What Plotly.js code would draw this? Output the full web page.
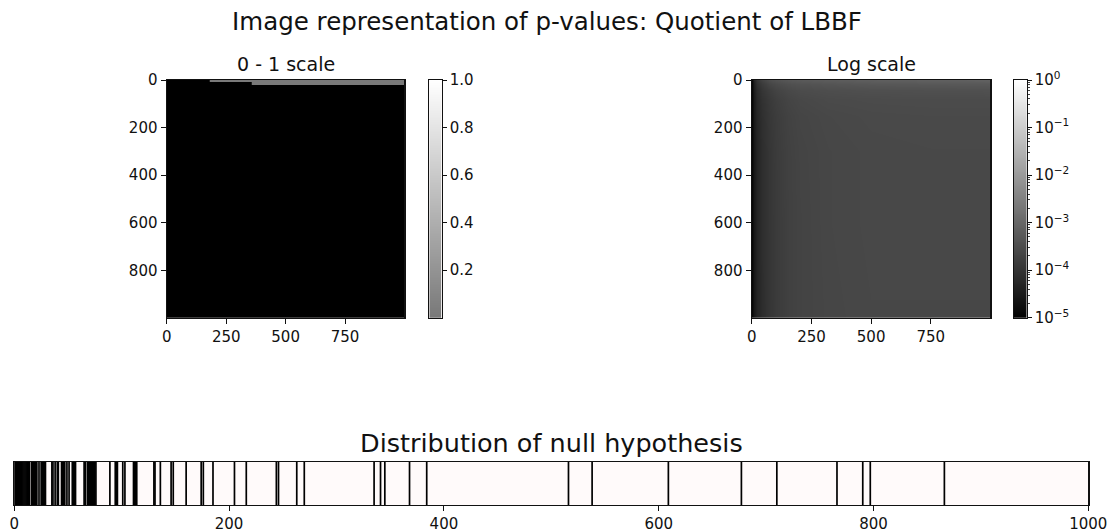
<!DOCTYPE html>
<html>
<head>
<meta charset="utf-8">
<script src="https://cdn.plot.ly/plotly-3.0.1.min.js"></script>
<style>html,body{margin:0;padding:0;background:#fff;}#chart{width:1120px;height:532px;}</style>
</head>
<body>
<div id="chart"></div>
<script>
// ---------- DATA ----------
// Left image (0 - 1 scale): bin edges and p-values
const leftColEdges = [-0.5, 182, 358, 999.5];
const leftRowEdges = [-0.5, 8, 20, 999.5];
const leftP = [
  [0, 0.012, 0.012],
  [0, 0,     0.012],
  [0, 0,     0]
];
// Right image (log scale): sample positions and log10 p-values
const rightCols = [0, 8, 20, 40, 70, 100, 150, 200, 320, 500, 750, 999];
const rightRows = [0, 15, 40, 80, 150, 300, 600, 999];
const rightLogP = [
  [-4.9, -4.30, -3.95, -3.70, -3.50, -3.40, -3.30, -3.25, -3.20, -3.15, -3.12, -3.10],
  [-4.9, -4.40, -4.05, -3.85, -3.65, -3.55, -3.45, -3.40, -3.35, -3.30, -3.28, -3.27],
  [-4.9, -4.45, -4.15, -3.95, -3.80, -3.68, -3.58, -3.52, -3.48, -3.45, -3.44, -3.43],
  [-4.9, -4.50, -4.20, -4.02, -3.88, -3.77, -3.66, -3.60, -3.55, -3.53, -3.52, -3.52],
  [-4.9, -4.50, -4.25, -4.07, -3.92, -3.82, -3.71, -3.65, -3.60, -3.57, -3.56, -3.56],
  [-4.9, -4.55, -4.30, -4.10, -3.95, -3.84, -3.73, -3.67, -3.62, -3.59, -3.58, -3.58],
  [-4.9, -4.55, -4.30, -4.10, -3.95, -3.85, -3.74, -3.68, -3.62, -3.59, -3.59, -3.59],
  [-4.9, -4.55, -4.30, -4.12, -3.96, -3.85, -3.74, -3.68, -3.63, -3.60, -3.60, -3.60]
];
// Null hypothesis distribution (positions of samples)
const nullSamples = [
  0,1,2,3,4,5,6,7,8,9,10,11,12,13,14,16,17,18,19,20,21,23,25,26,27,28,29,
  35,36,38,40,41,44,45,46,47,49,51,54,55,56,57,65,66,
  68,69,70,71,72,73,74,75,76,89,94,95,96,101,103,111,112,113,114,
  130,131,136,146,148,160,174,176,185,205,216,244,246,263,270,
  335,341,345,368,384,516,538,609,677,710,766,790,797,866
];
const imgXTicks = [0, 250, 500, 750];
const imgYTicks = [0, 200, 400, 600, 800];
const linTicks = [0.2, 0.4, 0.6, 0.8, 1.0];
const linTickText = ['0.2', '0.4', '0.6', '0.8', '1.0'];
const logTicks = [-5, -4, -3, -2, -1, 0];
const logTickText = ['10<sup>\u22125</sup>', '10<sup>\u22124</sup>', '10<sup>\u22123</sup>', '10<sup>\u22122</sup>', '10<sup>\u22121</sup>', '10<sup>0</sup>'];
const stripTicks = [0, 200, 400, 600, 800, 1000];
const titles = {
  sup: 'Image representation of p-values: Quotient of LBBF',
  left: '0 - 1 scale',
  right: 'Log scale',
  strip: 'Distribution of null hypothesis'
};

// ---------- BUILD ----------
const W = 1120, H = 532;
const px = (a, b) => [a / W, b / W];
const py = (top, bottom) => [1 - bottom / H, 1 - top / H];

const FONT = 'DejaVu Sans';
const tickFont = {family: FONT, size: 15, color: '#111'};

const leftScale = [[0, '#000000'], [0.002, '#787878'], [1, '#ffffff']];
const grayScale = [[0, '#000000'], [1, '#ffffff']];

// minor tick positions for log colorbar
const minorVals = [];
for (let n = -5; n < 0; n++) for (let k = 2; k <= 9; k++) minorVals.push(n + Math.log10(k));

// strip vertical lines
const sx = [], sy = [];
nullSamples.forEach(v => { sx.push(v, v, null); sy.push(0, 1, null); });

const traces = [
  {type: 'heatmap', x: leftColEdges, y: leftRowEdges, z: leftP, xaxis: 'x', yaxis: 'y',
   colorscale: leftScale, zmin: 0, zmax: 1, showscale: false, hoverinfo: 'skip'},
  {type: 'heatmap', x: rightCols, y: rightRows, z: rightLogP, xaxis: 'x2', yaxis: 'y2',
   colorscale: grayScale, zmin: -5, zmax: 0, zsmooth: 'best', showscale: false, hoverinfo: 'skip'},
  {type: 'heatmap', x: [0, 1], y: [0, 1], z: [[0, 0], [1, 1]], xaxis: 'x3', yaxis: 'y3',
   colorscale: leftScale, zmin: 0, zmax: 1, zsmooth: 'best', showscale: false, hoverinfo: 'skip'},
  {type: 'heatmap', x: [0, 1], y: [-5, 0], z: [[-5, -5], [0, 0]], xaxis: 'x4', yaxis: 'y4',
   colorscale: grayScale, zmin: -5, zmax: 0, zsmooth: 'best', showscale: false, hoverinfo: 'skip'},
  {type: 'scatter', mode: 'lines', x: sx, y: sy, xaxis: 'x5', yaxis: 'y5',
   line: {color: '#000', width: 1.7}, hoverinfo: 'skip', showlegend: false}
];

const frame = {showline: true, mirror: true, linecolor: '#111', linewidth: 1.2, showgrid: false, zeroline: false};
const tk = {ticks: 'outside', ticklen: 5, tickwidth: 1, tickcolor: '#111', tickfont: tickFont};

const dImgY = py(80, 317.7);
const layout = {
  width: W, height: H,
  margin: {l: 0, r: 0, t: 0, b: 0},
  paper_bgcolor: '#fff', plot_bgcolor: '#fffafa',
  showlegend: false,
  title: {text: titles.sup, x: 547 / W, xanchor: 'center', y: 1 - 21 / H, yanchor: 'middle',
          font: {family: FONT, size: 24.5, color: '#111'}},
  xaxis: Object.assign({}, frame, tk, {domain: px(166.7, 404.3), range: [-0.5, 999.5], tickvals: imgXTicks, anchor: 'y'}),
  yaxis: Object.assign({}, frame, tk, {domain: dImgY, range: [999.5, -0.5], tickvals: imgYTicks, anchor: 'x'}),
  xaxis2: Object.assign({}, frame, tk, {domain: px(751.7, 990.3), range: [-0.5, 999.5], tickvals: imgXTicks, anchor: 'y2'}),
  yaxis2: Object.assign({}, frame, tk, {domain: dImgY, range: [999.5, -0.5], tickvals: imgYTicks, anchor: 'x2'}),
  xaxis3: Object.assign({}, frame, {domain: px(429.3, 441.5), range: [0, 1], showticklabels: false, ticks: '', anchor: 'y3'}),
  yaxis3: Object.assign({}, frame, tk, {domain: dImgY, range: [0, 1], side: 'right', tickvals: linTicks, ticktext: linTickText, anchor: 'x3', ticklen: 4}),
  xaxis4: Object.assign({}, frame, {domain: px(1014, 1026.5), range: [0, 1], showticklabels: false, ticks: '', anchor: 'y4'}),
  yaxis4: Object.assign({}, frame, tk, {domain: dImgY, range: [-5, 0], side: 'right', tickvals: logTicks, ticktext: logTickText, anchor: 'x4', ticklen: 4,
    minor: {tickvals: minorVals, ticks: 'outside', ticklen: 2, tickwidth: 0.8, tickcolor: '#111', showgrid: false}}),
  xaxis5: Object.assign({}, frame, tk, {domain: px(14.3, 1088.3), range: [0, 1000], tickvals: stripTicks, anchor: 'y5'}),
  yaxis5: Object.assign({}, frame, {domain: py(461.7, 505), range: [0, 1], showticklabels: false, ticks: '', anchor: 'x5'}),
  annotations: [
    {text: titles.left, xref: 'paper', yref: 'paper', x: (166.7 + 404.3) / 2 / W, y: 1 - 64 / H, xanchor: 'center', yanchor: 'middle', showarrow: false, font: {family: FONT, size: 19, color: '#111'}},
    {text: titles.right, xref: 'paper', yref: 'paper', x: (751.7 + 990.3) / 2 / W, y: 1 - 64 / H, xanchor: 'center', yanchor: 'middle', showarrow: false, font: {family: FONT, size: 19, color: '#111'}},
    {text: titles.strip, xref: 'paper', yref: 'paper', x: (14.3 + 1088.3) / 2 / W, y: 1 - 443 / H, xanchor: 'center', yanchor: 'middle', showarrow: false, font: {family: FONT, size: 25.5, color: '#111'}}
  ]
};

Plotly.newPlot('chart', traces, layout, {staticPlot: true, displayModeBar: false});
</script>
</body>
</html>
